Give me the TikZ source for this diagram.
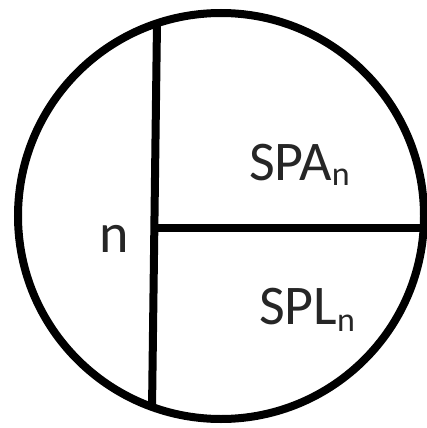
\documentclass[tikz,border=0pt]{standalone}
\usepackage{fontspec}
\setmainfont{Carlito}
\newcommand{\bigtxt}{\fontsize{56}{60}\selectfont}
\newcommand{\subtxt}{\fontsize{34}{36}\selectfont}
\begin{document}
\begin{tikzpicture}[x=1pt,y=-1pt,
  thick line/.style={line width=8pt, draw=black},
  lbl/.style={anchor=base west, inner sep=0pt, outer sep=0pt, text=black!85}]
\useasboundingbox (0,0) rectangle (427,428);
\fill[white] (0,0) rectangle (427,428);
\coordinate (c) at (221,216);
\draw[thick line] (c) circle[radius=203];
\coordinate (vt) at (157,23);
\coordinate (vb) at (152,409);
\coordinate (hl) at (154,228);
\coordinate (hr) at (424,228);
\draw[thick line] (vt) -- (vb);
\draw[thick line] (hl) -- (hr);
\node[lbl] (spa) at (249,180) {\bigtxt SPA\raisebox{-5pt}{\subtxt n}};
\node[lbl] (spl) at (259,324) {\bigtxt SPL\raisebox{-7pt}{\subtxt n}};
\node[lbl] (n) at (99,252) {\bigtxt n};
\end{tikzpicture}
\end{document}
